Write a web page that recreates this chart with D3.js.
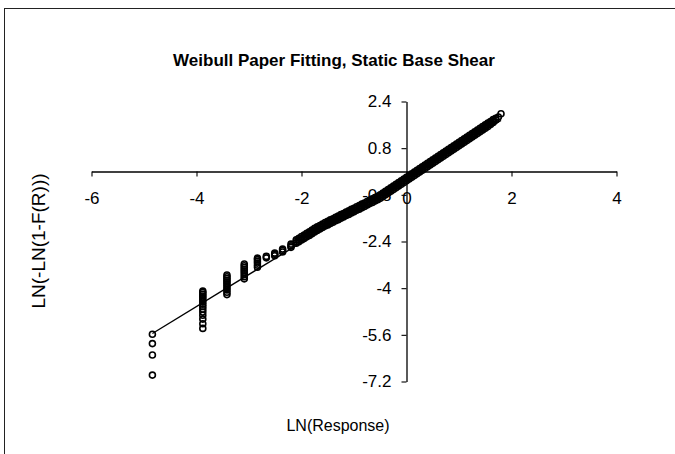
<!DOCTYPE html>
<html>
<head>
<meta charset="utf-8">
<script src="https://cdn.jsdelivr.net/npm/d3@7/dist/d3.min.js"></script>
<style>
  html, body { margin: 0; padding: 0; background: #fff; }
  svg { display: block; font-family: "Liberation Sans", Arial, sans-serif; }
</style>
</head>
<body>
<svg id="chart" width="675" height="454"></svg>
<script>
// Weibull probability paper: each distinct LN(Response) level with the
// LN(-LN(1-F(R))) plotting positions of the ranked observations at that level.
const levelX = [
  -4.84, -3.88, -3.42, -3.09, -2.84, -2.67, -2.51, -2.36, -2.20,
  -2.10, -2.05, -2.00, -1.95, -1.90, -1.85, -1.80, -1.75, -1.70, -1.65,
  -1.60, -1.55, -1.50, -1.45, -1.40, -1.35, -1.30, -1.25, -1.20, -1.15,
  -1.10, -1.05, -1.00, -0.95, -0.90, -0.85, -0.80, -0.75, -0.70, -0.65,
  -0.60, -0.55, -0.50, -0.45, -0.40, -0.35, -0.30, -0.25, -0.20, -0.15,
  -0.10, -0.05, 0.00, 0.05, 0.10, 0.15, 0.20, 0.25, 0.30, 0.35,
  0.40, 0.45, 0.50, 0.55, 0.60, 0.65, 0.70, 0.75, 0.80, 0.85,
  0.90, 0.95, 1.00, 1.05, 1.10, 1.15, 1.20, 1.25, 1.30, 1.35,
  1.40, 1.45, 1.50, 1.55, 1.60, 1.65, 1.70, 1.75, 1.80
];
const levelY = [
  [-5.58, -5.90, -6.29, -6.98],
  [-5.38, -5.22, -5.06, -4.93, -4.82, -4.72, -4.63, -4.55, -4.47, -4.40, -4.33, -4.27, -4.21, -4.15, -4.10],
  [-4.22, -4.14, -4.06, -3.99, -3.92, -3.85, -3.79, -3.73, -3.67, -3.61, -3.55],
  [-3.68, -3.61, -3.54, -3.47, -3.41, -3.35, -3.29, -3.23, -3.17],
  [-3.28, -3.21, -3.14, -3.08, -3.02, -2.97],
  [-2.96, -2.91],
  [-2.89, -2.84, -2.80],
  [-2.76, -2.71, -2.66],
  [-2.60, -2.55, -2.49],
  [-2.46, -2.40, -2.34], [-2.41, -2.35, -2.29], [-2.35, -2.29, -2.23], [-2.30, -2.24, -2.18],
  [-2.24, -2.18, -2.12], [-2.19, -2.13, -2.07], [-2.13, -2.07, -2.01], [-2.07, -2.01, -1.95],
  [-2.02, -1.96, -1.90], [-1.97, -1.91, -1.85], [-1.92, -1.86, -1.80], [-1.87, -1.81, -1.75],
  [-1.83, -1.77, -1.71], [-1.78, -1.72, -1.66], [-1.74, -1.68, -1.62], [-1.69, -1.63, -1.57],
  [-1.65, -1.59, -1.53], [-1.60, -1.54, -1.48], [-1.56, -1.50, -1.44], [-1.51, -1.45, -1.39],
  [-1.47, -1.41, -1.35], [-1.42, -1.36, -1.30], [-1.38, -1.32, -1.26], [-1.33, -1.27, -1.21],
  [-1.29, -1.23, -1.17], [-1.24, -1.18, -1.12], [-1.20, -1.14, -1.08], [-1.15, -1.09, -1.03],
  [-1.10, -1.04, -0.98], [-1.06, -1.00, -0.94], [-1.01, -0.95, -0.89], [-0.97, -0.91, -0.85],
  [-0.92, -0.86, -0.80], [-0.86, -0.80, -0.74], [-0.80, -0.74, -0.68], [-0.74, -0.68, -0.62],
  [-0.68, -0.62, -0.56], [-0.62, -0.56, -0.50], [-0.56, -0.50, -0.44], [-0.50, -0.44, -0.38],
  [-0.44, -0.38, -0.32], [-0.38, -0.32, -0.26], [-0.32, -0.26, -0.20], [-0.26, -0.20, -0.14],
  [-0.20, -0.14, -0.08], [-0.14, -0.08, -0.02], [-0.08, -0.02, 0.04], [-0.02, 0.04, 0.10],
  [0.04, 0.10, 0.16], [0.10, 0.16, 0.22], [0.16, 0.22, 0.28], [0.22, 0.28, 0.34],
  [0.28, 0.34, 0.40], [0.34, 0.40, 0.46], [0.40, 0.46, 0.52], [0.46, 0.52, 0.58],
  [0.52, 0.58, 0.64], [0.58, 0.64, 0.70], [0.64, 0.70, 0.76], [0.70, 0.76, 0.82],
  [0.76, 0.82, 0.88], [0.82, 0.88, 0.94], [0.88, 0.94, 1.00], [0.94, 1.00, 1.06],
  [1.00, 1.06, 1.12], [1.06, 1.12, 1.18], [1.12, 1.18, 1.24], [1.18, 1.24, 1.30],
  [1.24, 1.30, 1.36], [1.30, 1.36, 1.42], [1.36, 1.42, 1.48], [1.42, 1.48, 1.54],
  [1.48, 1.54, 1.60], [1.54, 1.60, 1.66], [1.61, 1.66, 1.71], [1.68, 1.73, 1.78],
  [1.77, 1.82], [1.87], [1.98]
];

// Least-squares trend line: y = intercept + slope * x, over the data range
const trendIntercept = -0.23;
const trendSlope = 1.10;
const trendRange = [-4.84, 1.80];

const xTicks = [-6, -4, -2, 0, 2, 4];
const yTicks = [2.4, 0.8, -0.8, -2.4, -4, -5.6, -7.2];

const titleText = "Weibull Paper Fitting, Static Base Shear";
const xTitle = "LN(Response)";
const yTitle = "LN(-LN(1-F(R)))";

const points = [];
levelX.forEach((xv, i) => levelY[i].forEach(yv => points.push({ x: xv, y: yv })));

const svg = d3.select("#chart");

// chart area frame
svg.append("rect")
  .attr("x", 4.5).attr("y", 8.5)
  .attr("width", 700).attr("height", 500)
  .attr("fill", "#fff")
  .attr("stroke", "#222").attr("stroke-width", 1);

const x = d3.scaleLinear().domain([-6, 4]).range([91.5, 616.5]);
const y = d3.scaleLinear().domain([-7.2, 2.4]).range([381.5, 101.5]);
const fmt = d => String(d);

// axes cross at the origin
const xAxis = svg.append("g")
  .attr("transform", `translate(0,${y(0)})`)
  .call(d3.axisBottom(x).tickValues(xTicks).tickFormat(fmt)
    .tickSize(5).tickSizeOuter(0).tickPadding(15));

const yAxis = svg.append("g")
  .attr("transform", `translate(${x(0)},0)`)
  .call(d3.axisLeft(y).tickValues(yTicks).tickFormat(fmt)
    .tickSize(5).tickSizeOuter(0).tickPadding(10));

[xAxis, yAxis].forEach(g => {
  g.select(".domain").attr("stroke", "#000").attr("stroke-width", 1.3);
  g.selectAll(".tick line").attr("stroke", "#000").attr("stroke-width", 1.1);
  g.selectAll(".tick text")
    .attr("fill", "#000")
    .style("font-size", "17px")
    .style("font-family", "'Liberation Sans', Arial, sans-serif");
});

// scatter markers
svg.append("g")
  .selectAll("circle")
  .data(points)
  .join("circle")
  .attr("cx", d => x(d.x))
  .attr("cy", d => y(d.y))
  .attr("r", 3)
  .attr("fill", "none")
  .attr("stroke", "#000")
  .attr("stroke-width", 1.6);

// fitted line
const trend = trendRange.map(v => ({ x: v, y: trendIntercept + trendSlope * v }));
svg.append("path")
  .datum(trend)
  .attr("d", d3.line().x(d => x(d.x)).y(d => y(d.y)))
  .attr("fill", "none")
  .attr("stroke", "#000")
  .attr("stroke-width", 1.4);

// titles
svg.append("text")
  .attr("x", 334).attr("y", 66)
  .attr("text-anchor", "middle")
  .style("font-size", "17px").style("font-weight", "bold")
  .text(titleText);

svg.append("text")
  .attr("x", 338).attr("y", 431)
  .attr("text-anchor", "middle")
  .style("font-size", "16px")
  .text(xTitle);

svg.append("text")
  .attr("transform", "translate(45,241) rotate(-90)")
  .attr("text-anchor", "middle")
  .style("font-size", "19px")
  .text(yTitle);
</script>
</body>
</html>
